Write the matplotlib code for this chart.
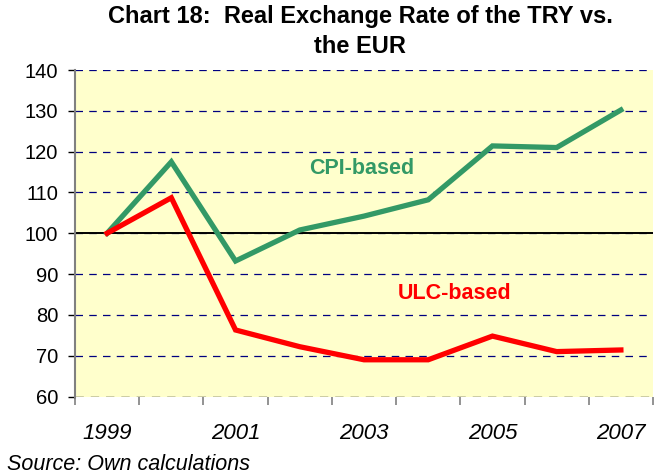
import numpy as np
import matplotlib.pyplot as plt

# --- data ---
years = [1999, 2000, 2001, 2002, 2003, 2004, 2005, 2006, 2007]
cpi_based = [100, 117.5, 93.2, 100.8, 104.2, 108.2, 121.4, 121.0, 130.2]
ulc_based = [100, 108.7, 76.3, 72.2, 69.0, 69.0, 74.8, 71.0, 71.4]
y_ticks = [60, 70, 80, 90, 100, 110, 120, 130, 140]

plt.rcParams['font.family'] = ['Liberation Sans', 'DejaVu Sans']

fig = plt.figure(figsize=(6.63, 4.74), dpi=100)
ax = fig.add_axes([0.1131, 0.1635, 0.8718, 0.6888])
ax.set_facecolor('#FFFFCC')

x = np.arange(len(years))

# grid
for v in y_ticks[1:]:
    ax.axhline(v, color='#000080', lw=0.9, ls=(0, (6, 5)), zorder=1)
ax.axhline(60, color='black', lw=1.0, ls=(0, (6, 5)), zorder=1)
ax.axhline(100, color='black', lw=1.4, zorder=2)

ax.plot(x, cpi_based, color='#339966', lw=3.8, solid_joinstyle='miter', zorder=3)
ax.plot(x, ulc_based, color='#FF0000', lw=3.8, solid_joinstyle='miter', zorder=3)

ax.text(3.15, 115.9, 'CPI-based', color='#339966', fontsize=15.5,
        fontweight='bold', va='center', ha='left')
ax.text(4.53, 85.3, 'ULC-based', color='#FF0000', fontsize=15.5,
        fontweight='bold', va='center', ha='left')

ax.set_xlim(-0.5, 8.5)
ax.set_ylim(60, 140)
ax.set_yticks(y_ticks)
ax.tick_params(axis='y', labelsize=14.5, length=5, width=1, color='black', pad=7)

ax.set_xticks(x[::2])
ax.set_xticklabels([str(y) for y in years[::2]], fontsize=16, style='italic')
ax.set_xticks(np.arange(-0.5, 9, 1), minor=True)
ax.tick_params(axis='x', which='major', length=0, pad=19)
ax.tick_params(axis='x', which='minor', length=6, width=1.2, color='#808080')

for s in ['top', 'right', 'bottom']:
    ax.spines[s].set_visible(False)
ax.spines['left'].set_color('#808080')
ax.spines['left'].set_linewidth(1.5)

fig.text(0.543, 0.990, 'Chart 18:  Real Exchange Rate of the TRY vs.\nthe EUR',
         ha='center', va='top', fontsize=17, fontweight='bold', linespacing=1.42)
fig.text(0.010, 0.008, 'Source: Own calculations', ha='left', va='baseline',
         fontsize=15.5, style='italic')

fig.savefig('out.png', dpi=100)
